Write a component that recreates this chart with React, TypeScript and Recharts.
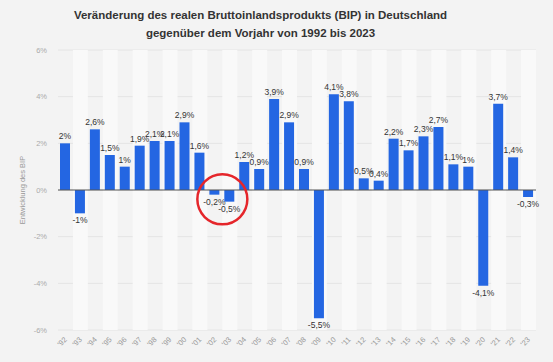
import React from 'react';
import {
  BarChart,
  Bar,
  XAxis,
  YAxis,
  CartesianGrid,
  ReferenceLine,
  ReferenceArea,
  ReferenceDot,
  LabelList,
} from 'recharts';

const years = [
  "'92", "'93", "'94", "'95", "'96", "'97", "'98", "'99", "'00", "'01", "'02",
  "'03", "'04", "'05", "'06", "'07", "'08", "'09", "'10", "'11", "'12", "'13",
  "'14", "'15", "'16", "'17", "'18", "'19", "'20", "'21", "'22", "'23",
];

const growth = [
  2, -1, 2.6, 1.5, 1, 1.9, 2.1, 2.1, 2.9, 1.6, -0.2,
  -0.5, 1.2, 0.9, 3.9, 2.9, 0.9, -5.5, 4.1, 3.8, 0.5, 0.4,
  2.2, 1.7, 2.3, 2.7, 1.1, 1, -4.1, 3.7, 1.4, -0.3,
];

const yTicks = [-6, -4, -2, 0, 2, 4, 6];

const titleLines = [
  'Veränderung des realen Bruttoinlandsprodukts (BIP) in Deutschland',
  'gegenüber dem Vorjahr von 1992 bis 2023',
];

// the circled years in the original graphic
const highlightYear = "'02";
const highlightValue = -0.4;

const chartData = years.map((year, i) => ({ year, value: growth[i] }));
const stripes = years.filter((_, i) => i % 2 === 1);

const font = '"Liberation Sans", Arial, sans-serif';

const fmt = (v: number) => `${String(v).replace('.', ',')}%`;

const BarLabel = (props: any) => {
  const { x, y, width, height, value } = props;
  const top = Math.min(y, y + height);
  const bottom = Math.max(y, y + height);
  const cx = x + width / 2;
  return (
    <text
      x={cx}
      y={value < 0 ? bottom + 10 : top - 4}
      textAnchor="middle"
      fontSize={8.5}
      fill="#333"
      fontFamily={font}
    >
      {fmt(value)}
    </text>
  );
};

const XTick = (props: any) => {
  const { x, y, payload } = props;
  return (
    <text
      x={x + 2}
      y={y + 2}
      transform={`rotate(-45 ${x + 2} ${y + 2})`}
      textAnchor="end"
      fontSize={7.5}
      fill="#999"
      fontFamily={font}
    >
      {payload.value}
    </text>
  );
};

const Ring = (props: any) => {
  const { cx, cy } = props;
  return <circle cx={cx + 7.5} cy={cy} r={25} fill="none" stroke="#e5262b" strokeWidth={2.5} />;
};

export default function App() {
  return (
    <div
      style={{
        position: 'absolute',
        left: 0,
        top: 0,
        width: 553,
        height: 362,
        background: '#f3f3f3',
        fontFamily: font,
      }}
    >
      <div
        style={{
          position: 'absolute',
          top: 6,
          left: -16,
          width: 553,
          textAlign: 'center',
          fontWeight: 'bold',
          fontSize: 11.5,
          lineHeight: '18px',
          color: '#333',
        }}
      >
        {titleLines.map(t => (
          <div key={t}>{t}</div>
        ))}
      </div>
      <div style={{ position: 'absolute', left: 0, top: 0 }}>
        <BarChart
          width={553}
          height={362}
          data={chartData}
          margin={{ top: 50, right: 17, bottom: 2, left: 18 }}
        >
          {stripes.map(s => (
            <ReferenceArea key={s} x1={s} x2={s} fill="#f9f9f9" fillOpacity={1} stroke="none" />
          ))}
          <CartesianGrid vertical={false} stroke="#e4e4e4" />
          <XAxis
            dataKey="year"
            height={30}
            axisLine={false}
            tickLine={false}
            interval={0}
            tick={<XTick />}
          />
          <YAxis
            width={40}
            domain={[-6, 6]}
            ticks={yTicks}
            axisLine={false}
            tickLine={false}
            tickMargin={5}
            tickFormatter={(v: number) => `${v}%`}
            tick={{ fontSize: 7.5, fill: '#aaa', fontFamily: font }}
            label={{
              value: 'Entwicklung des BIP',
              angle: -90,
              position: 'insideLeft',
              dx: -1,
              style: { fontSize: 7.5, fill: '#999', fontFamily: font, textAnchor: 'middle' },
            }}
          />
          <ReferenceLine y={0} stroke="#555" strokeWidth={1} />
          <Bar dataKey="value" fill="#2466e2" barSize={10} isAnimationActive={false}>
            <LabelList dataKey="value" content={<BarLabel />} />
          </Bar>
          <ReferenceDot x={highlightYear} y={highlightValue} shape={<Ring />} />
        </BarChart>
      </div>
    </div>
  );
}
